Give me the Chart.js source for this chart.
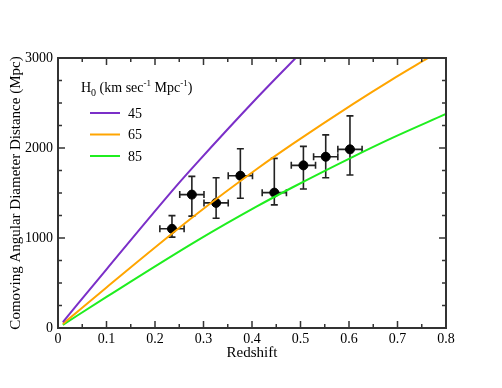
<!DOCTYPE html>
<html>
<head>
<meta charset="utf-8">
<script src="https://cdn.jsdelivr.net/npm/chart.js@4.4.0/dist/chart.umd.min.js"></script>
<style>
  body { margin: 0; background: #fff; }
  #wrap { width: 502px; height: 388px; }
</style>
</head>
<body>
<div id="wrap"><canvas id="myChart"></canvas></div>
<script>
// model curves (redshift -> comoving angular diameter distance in Mpc)
let h45Z = [0.01, 0.1, 0.246, 0.286, 0.41, 0.49];
let h45D = [66, 652, 1590, 1832, 2555, 3000];
let h65Z = [0.01, 0.1, 0.286, 0.41, 0.484, 0.608, 0.686, 0.763];
let h65D = [46, 451, 1266, 1766, 2045, 2488, 2752, 3000];
let h85Z = [0.01, 0.1, 0.286, 0.41, 0.484, 0.608, 0.686, 0.8];
let h85D = [35, 345, 968, 1351, 1564, 1902, 2104, 2378];

// measured points with error bars
let obsZ = [0.235, 0.276, 0.326, 0.376, 0.446, 0.506, 0.552, 0.602];
let obsD = [1102, 1482, 1390, 1692, 1504, 1807, 1903, 1985];
let obsLow = [1010, 1243, 1220, 1442, 1368, 1545, 1670, 1700];
let obsHigh = [1249, 1685, 1670, 1991, 1885, 2018, 2146, 2357];
let obsZErr = [0.025, 0.025, 0.025, 0.025, 0.025, 0.025, 0.025, 0.025];

let legendLabels = ['45', '65', '85'];
let lineColors = ['#7b2fc8', '#ffa500', '#1fee1f'];

let xTicksMinor = [0.05, 0.15, 0.25, 0.35, 0.45, 0.55, 0.65, 0.75];
let yTicksMinor = [250, 500, 750, 1250, 1500, 1750, 2250, 2500, 2750];

const serif = '"Liberation Serif", "Times New Roman", serif';

function pairs(xs, ys) {
    return xs.map((x, i) => ({x: x, y: ys[i]}));
}

// error bars drawn just before the black points
const errorBars = {
    id: 'errorBars',
    beforeDatasetDraw(chart, args) {
        if (args.index !== 3) return;
        const ctx = chart.ctx;
        const xs = chart.scales.x, ys = chart.scales.y;
        ctx.save();
        ctx.strokeStyle = '#222';
        ctx.lineWidth = 1.6;
        obsZ.forEach((z, i) => {
            let px = xs.getPixelForValue(z);
            let py = ys.getPixelForValue(obsD[i]);
            let top = ys.getPixelForValue(obsHigh[i]);
            let bot = ys.getPixelForValue(obsLow[i]);
            let l = xs.getPixelForValue(z - obsZErr[i]);
            let r = xs.getPixelForValue(z + obsZErr[i]);
            ctx.beginPath();
            ctx.moveTo(px, top); ctx.lineTo(px, bot);
            ctx.moveTo(px - 3.5, top); ctx.lineTo(px + 3.5, top);
            ctx.moveTo(px - 3.5, bot); ctx.lineTo(px + 3.5, bot);
            ctx.moveTo(l, py); ctx.lineTo(r, py);
            ctx.moveTo(l, py - 3.5); ctx.lineTo(l, py + 3.5);
            ctx.moveTo(r, py - 3.5); ctx.lineTo(r, py + 3.5);
            ctx.stroke();
        });
        ctx.restore();
    }
};

// frame with inward ticks on all four sides, plus the legend
const frame = {
    id: 'frame',
    afterDraw(chart) {
        const ctx = chart.ctx;
        const a = chart.chartArea;
        const xs = chart.scales.x, ys = chart.scales.y;
        ctx.save();
        ctx.strokeStyle = '#333';
        ctx.lineWidth = 1.5;
        ctx.beginPath();
        xs.ticks.forEach(t => {
            let px = xs.getPixelForValue(t.value);
            ctx.moveTo(px, a.bottom); ctx.lineTo(px, a.bottom - 7);
            ctx.moveTo(px, a.top); ctx.lineTo(px, a.top + 7);
        });
        xTicksMinor.forEach(v => {
            let px = xs.getPixelForValue(v);
            ctx.moveTo(px, a.bottom); ctx.lineTo(px, a.bottom - 4);
            ctx.moveTo(px, a.top); ctx.lineTo(px, a.top + 4);
        });
        ys.ticks.forEach(t => {
            let py = ys.getPixelForValue(t.value);
            ctx.moveTo(a.left, py); ctx.lineTo(a.left + 7, py);
            ctx.moveTo(a.right, py); ctx.lineTo(a.right - 7, py);
        });
        yTicksMinor.forEach(v => {
            let py = ys.getPixelForValue(v);
            ctx.moveTo(a.left, py); ctx.lineTo(a.left + 4, py);
            ctx.moveTo(a.right, py); ctx.lineTo(a.right - 4, py);
        });
        ctx.stroke();
        ctx.lineWidth = 2;
        ctx.strokeRect(a.left, a.top, a.right - a.left, a.bottom - a.top);

        // legend
        ctx.fillStyle = '#000';
        ctx.textBaseline = 'alphabetic';
        let x = 81, base = 92;
        const put = (txt, size, dy) => {
            ctx.font = size + 'px ' + serif;
            ctx.fillText(txt, x, base + dy);
            x += ctx.measureText(txt).width;
        };
        put('H', 14, 0);
        put('0', 10, 4);
        put(' (km sec', 14, 0);
        put('-1', 9, -6);
        put(' Mpc', 14, 0);
        put('-1', 9, -6);
        put(')', 14, 0);

        ctx.font = '14px ' + serif;
        ctx.textBaseline = 'middle';
        legendLabels.forEach((lab, i) => {
            let y = 113 + i * 21.5;
            ctx.strokeStyle = lineColors[i];
            ctx.lineWidth = 2;
            ctx.beginPath();
            ctx.moveTo(90, y); ctx.lineTo(120, y);
            ctx.stroke();
            ctx.fillText(lab, 128, y + 1);
        });
        ctx.restore();
    }
};

const curveStyle = {
    showLine: true,
    pointRadius: 0,
    borderWidth: 2,
    cubicInterpolationMode: 'monotone',
    fill: false
};

let chart = new Chart(document.querySelector('#myChart').getContext('2d'), {
    type: 'scatter',
    data: {
        datasets: [
            Object.assign({label: '45', data: pairs(h45Z, h45D), borderColor: lineColors[0]}, curveStyle),
            Object.assign({label: '65', data: pairs(h65Z, h65D), borderColor: lineColors[1]}, curveStyle),
            Object.assign({label: '85', data: pairs(h85Z, h85D), borderColor: lineColors[2]}, curveStyle),
            {
                label: 'data',
                data: pairs(obsZ, obsD),
                pointRadius: 4.5,
                pointBackgroundColor: '#000',
                pointBorderColor: '#000',
                showLine: false
            }
        ]
    },
    options: {
        responsive: true,
        maintainAspectRatio: false,
        animation: false,
        layout: { padding: {top: 58, right: 56, bottom: 26, left: 0} },
        plugins: {
            legend: { display: false },
            tooltip: { enabled: false }
        },
        scales: {
            x: {
                type: 'linear',
                min: 0, max: 0.8,
                afterFit(s) { s.height = 34; },
                grid: { display: false, drawTicks: false },
                border: { display: false },
                ticks: {
                    stepSize: 0.1,
                    padding: 3,
                    color: '#000',
                    font: { family: serif, size: 14 },
                    callback: v => v === 0 ? '0' : v.toFixed(1)
                },
                title: {
                    display: true,
                    text: 'Redshift',
                    color: '#000',
                    font: { family: serif, size: 15 },
                    padding: {top: 0, bottom: 0}
                }
            },
            y: {
                min: 0, max: 3000,
                afterFit(s) { s.width = 58; },
                grid: { display: false, drawTicks: false },
                border: { display: false },
                ticks: {
                    stepSize: 1000,
                    padding: 5,
                    color: '#000',
                    font: { family: serif, size: 14 },
                    callback: v => String(v)
                },
                title: {
                    display: true,
                    text: 'Comoving Angular Diameter Distance (Mpc)',
                    color: '#000',
                    font: { family: serif, size: 15 },
                    padding: {top: 7, bottom: 0}
                }
            }
        }
    },
    plugins: [errorBars, frame]
});
</script>
</body>
</html>
